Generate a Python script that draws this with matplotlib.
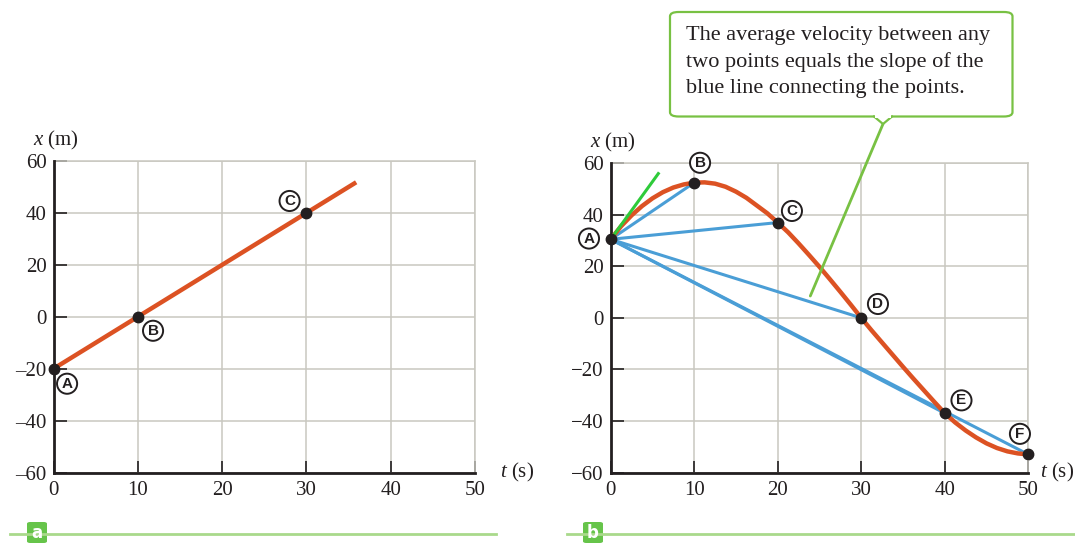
import matplotlib
matplotlib.use("Agg")
import matplotlib.pyplot as plt
from matplotlib.patches import FancyBboxPatch, Rectangle
from matplotlib.lines import Line2D

# panel a: straight line x = 2t - 20
line_a_t = [0, 35.9]
line_a_x = [-20, 51.8]
pts_a_t = [0, 10, 30]
pts_a_x = [-20, 0, 40]
pts_a_lbl = ["A", "B", "C"]
lbl_a_pos = [(1.6, -25.8), (11.8, -5.4), (28.0, 44.6)]

# panel b: curve
curve_t = [0, 1.25, 2.5, 3.75, 5, 6.25, 7.5, 8.75, 10, 11.25, 12.5, 13.75, 15, 16.25,
           17.5, 18.75, 20, 21.25, 22.5, 23.75, 25, 26.25, 27.5, 28.75, 30, 31.25,
           32.5, 33.75, 35, 36.25, 37.5, 38.75, 40, 41.25, 42.5, 43.75, 45, 46.25,
           47.5, 48.75, 50]
curve_x = [30.5, 35.6, 39.8, 43.4, 46.4, 48.8, 50.6, 51.8, 52.5, 52.6, 52.1, 50.9, 49.0,
           46.6, 43.6, 40.6, 37.0, 33.2, 28.9, 24.4, 19.8, 15.0, 10.1, 5.1, 0.0, -4.9,
           -9.6, -14.3, -19.0, -23.6, -28.1, -32.6, -37.0, -40.6, -43.7, -46.4, -48.7,
           -50.5, -51.8, -52.6, -53.0]
pts_b_t = [0, 10, 20, 30, 40, 50]
pts_b_x = [30.5, 52.5, 37, 0, -37, -53]
pts_b_lbl = ["A", "B", "C", "D", "E", "F"]
lbl_b_pos = [(-2.6, 30.8), (10.7, 60.2), (21.7, 41.5), (32.0, 5.4), (42.0, -32.0), (49.0, -45.0)]
tangent_t = [0, 5.7]
tangent_x = [30.5, 56]

xticks = [0, 10, 20, 30, 40, 50]
yticks = [-60, -40, -20, 0, 20, 40, 60]
ylabels_a = ["–60", "–40", "–20", "0", "20", "40", "60"]
ylabels_b = ["−60", "−40", "−20", "0", "20", "40", "60"]

note = "The average velocity between any\ntwo points equals the slope of the\nblue line connecting the points."

ORANGE = "#dc5223"
BLUE = "#4a9ed6"
GREEN_T = "#2ecb3a"
GREEN = "#78c143"
GRID = "#c9c8c0"
DARK = "#231f20"
SERIF = "Liberation Serif"
FS = 15

plt.rcParams["mathtext.fontset"] = "custom"
plt.rcParams["mathtext.it"] = "Liberation Serif:italic"
plt.rcParams["mathtext.rm"] = "Liberation Serif"

W, H = 1075, 544
fig = plt.figure(figsize=(W / 100, H / 100), dpi=100)


def setup(ax, ylabels, tlabel_x):
    ax.set_xlim(0, 50)
    ax.set_ylim(-60, 60)
    ax.set_xticks(xticks)
    ax.set_yticks(yticks)
    ax.set_xticklabels([str(v) for v in xticks], fontfamily=SERIF, fontsize=FS, color=DARK)
    ax.set_yticklabels(ylabels, fontfamily=SERIF, fontsize=FS, color=DARK)
    ax.tick_params(direction="in", length=9, width=1.2, color=DARK, pad=6)
    ax.tick_params(axis="y", pad=5)
    ax.grid(True, color=GRID, linewidth=1.1)
    ax.set_axisbelow(True)
    for s in ["left", "bottom"]:
        ax.spines[s].set_color(DARK)
        ax.spines[s].set_linewidth(2)
        ax.spines[s].set_zorder(5)
    for s in ["top", "right"]:
        ax.spines[s].set_color(GRID)
        ax.spines[s].set_linewidth(1.1)
    ax.text(-2.5, 63.5, "$x$ (m)", fontfamily=SERIF, fontsize=FS, color=DARK,
            ha="left", va="bottom", clip_on=False)
    ax.text(tlabel_x, -60, "$t$ (s)", fontfamily=SERIF, fontsize=FS, color=DARK,
            ha="center", va="center", clip_on=False)


def circled(ax, x, y, s):
    ax.text(x, y, s, fontfamily="Liberation Sans", fontweight="bold", fontsize=11,
            color=DARK, ha="center", va="center", zorder=8, clip_on=False,
            bbox=dict(boxstyle="circle,pad=0.2", fc="white", ec=DARK, lw=1.4))


# panel a
ax1 = fig.add_axes([53.6 / W, 1 - 472.5 / H, (475 - 53.6) / W, (472.5 - 161) / H])
setup(ax1, ylabels_a, 55)
ax1.plot(line_a_t, line_a_x, color=ORANGE, lw=3.2, solid_capstyle="butt", clip_on=False, zorder=6)
ax1.plot(pts_a_t, pts_a_x, "o", color=DARK, ms=7.5, clip_on=False, zorder=7)
for (lx, ly), s in zip(lbl_a_pos, pts_a_lbl):
    circled(ax1, lx, ly, s)

# panel b
ax2 = fig.add_axes([610.7 / W, 1 - 472.5 / H, (1028.3 - 610.7) / W, (472.5 - 163.3) / H])
setup(ax2, ylabels_b, 53.5)
for t, x in zip(pts_b_t[1:], pts_b_x[1:]):
    ax2.plot([pts_b_t[0], t], [pts_b_x[0], x], color=BLUE, lw=2.2, zorder=5, clip_on=False)
ax2.plot(curve_t, curve_x, color=ORANGE, lw=3.2, zorder=6, clip_on=False)
ax2.plot(tangent_t, tangent_x, color=GREEN_T, lw=2.2, zorder=6, clip_on=False)
ax2.plot(pts_b_t, pts_b_x, "o", color=DARK, ms=7.5, clip_on=False, zorder=7)
for (lx, ly), s in zip(lbl_b_pos, pts_b_lbl):
    circled(ax2, lx, ly, s)

# callout
box = FancyBboxPatch((670 / W, 1 - 116.5 / H), (1012.5 - 670) / W, (116.5 - 12) / H,
                     boxstyle="round,pad=0,rounding_size=0.008", transform=fig.transFigure,
                     fc="white", ec=GREEN, lw=1.6)
fig.patches.append(box)
cover = Rectangle((875 / W, 1 - 118 / H), 16 / W, 3 / H, transform=fig.transFigure,
                  fc="white", ec="none", zorder=3)
fig.patches.append(cover)
fig.lines.append(Line2D([874 / W, 883 / W, 892 / W], [1 - 116.5 / H, 1 - 124 / H, 1 - 116.5 / H],
                        transform=fig.transFigure, color=GREEN, lw=1.6))
fig.text(686 / W, 1 - 26 / H, note, fontfamily=SERIF, fontsize=16, color=DARK,
         ha="left", va="top", linespacing=1.5)
ax2.annotate("", xy=(23.9, 8.5), xycoords="data", xytext=(883 / W, 1 - 124 / H),
             textcoords="figure fraction",
             arrowprops=dict(arrowstyle="-", color=GREEN, lw=2, shrinkA=0, shrinkB=0),
             zorder=6)

# bottom panel tags
for x0, x1, bx, tag in [(10, 496, 27, "a"), (567, 1075, 583, "b")]:
    fig.lines.append(Line2D([x0 / W, x1 / W], [1 - 533.5 / H] * 2, transform=fig.transFigure,
                            color="#a9d98b", lw=2))
    fig.patches.append(FancyBboxPatch((bx / W, 1 - 543 / H), 20 / W, 21 / H,
                                      boxstyle="round,pad=0,rounding_size=0.003",
                                      transform=fig.transFigure, fc="#66c44a", ec="none"))
    fig.text((bx + 10) / W, 1 - 533 / H, tag, fontfamily="DejaVu Sans", fontweight="bold",
             fontsize=12, color="white", ha="center", va="center")

fig.savefig("out.png", dpi=100)
